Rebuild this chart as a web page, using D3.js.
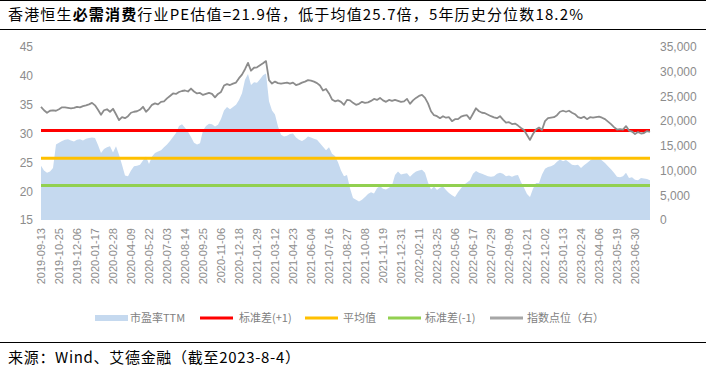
<!DOCTYPE html>
<html><head><meta charset="utf-8">
<script src="https://cdn.jsdelivr.net/npm/d3@7"></script>
<style>html,body{margin:0;padding:0;background:#fff;}svg{display:block;}</style>
</head><body>
<svg id="c" width="706" height="371"></svg>
<script>
const titlePre = "香港恒生";
const titleBold = "必需消费";
const titlePost = "行业PE估值=21.9倍，低于均值25.7倍，5年历史分位数18.2%";
const sourceText = "来源：Wind、艾德金融（截至2023-8-4）";
// weekly observations, one x-axis label every 6 weeks
const tickLabels = ["2019-09-13","2019-10-25","2019-12-06","2020-01-17","2020-02-28","2020-04-09","2020-05-22","2020-07-03","2020-08-14","2020-09-25","2020-11-06","2020-12-18","2021-01-29","2021-03-12","2021-04-23","2021-06-04","2021-07-16","2021-08-27","2021-10-08","2021-11-19","2021-12-31","2022-02-11","2022-03-25","2022-05-06","2022-06-17","2022-07-29","2022-09-09","2022-10-21","2022-12-02","2023-01-13","2023-02-24","2023-04-06","2023-05-19","2023-06-30"];
const labelEvery = 6;
const peTTM = [24.4,23.6,23.2,23.4,24.0,28.1,28.4,28.7,28.9,29.0,28.8,28.6,28.9,29.0,28.8,29.1,29.2,29.3,29.2,28.0,
26.6,27.3,27.6,27.8,26.7,27.8,26.3,24.6,22.7,22.6,23.6,24.3,24.4,24.6,25.3,26.0,24.7,26.0,26.6,26.9,
27.1,27.6,28.1,28.7,29.4,30.1,31.3,31.6,31.0,30.3,29.4,28.4,28.1,28.3,30.5,31.3,31.7,31.6,31.2,31.5,
32.5,34.0,34.6,34.2,34.6,35.0,35.8,37.0,39.3,40.3,38.4,38.9,38.8,39.4,40.1,40.4,35.6,34.0,33.3,31.2,
29.8,29.5,29.6,29.9,30.0,29.3,28.9,28.7,29.0,29.5,29.3,29.1,28.9,28.3,27.7,27.1,27.6,26.5,26.1,25.0,
23.6,22.6,22.8,20.5,18.8,18.5,18.2,18.5,19.0,19.5,19.8,19.6,20.5,20.9,20.4,20.3,20.6,21.0,22.8,23.4,
22.9,23.0,23.1,22.5,23.0,23.4,23.6,23.7,23.2,21.5,20.3,20.8,20.2,20.6,20.8,20.2,19.7,19.3,19.0,19.8,
20.5,21.1,21.5,21.9,23.0,23.5,23.2,23.0,22.8,22.6,22.5,22.6,23.0,23.2,23.0,22.6,22.7,22.5,22.7,22.8,
21.6,20.6,19.5,19.0,20.4,21.4,21.4,22.9,23.9,24.2,24.3,24.6,25.1,25.5,25.2,25.4,25.0,24.6,24.5,24.6,
24.0,24.5,24.9,25.3,25.7,25.9,25.8,25.3,24.9,24.3,23.8,23.2,22.5,22.4,22.6,23.2,22.3,22.4,22.0,21.9,
22.3,22.2,22.1,21.9];
const indexPts = [22900,22200,21700,22100,22200,22100,22400,22800,22800,22700,22600,22700,22900,22800,23050,23200,23400,23700,23200,22300,
21300,22200,22400,21900,22500,21400,20200,20800,20600,21000,21700,21900,22000,22300,22900,21900,22500,23300,23600,23400,
23900,24000,24600,25100,25600,25500,25900,26100,26200,26000,26600,26000,25600,25700,25300,25500,25700,25500,24800,25500,
25900,27200,27500,27300,27600,27800,28700,29400,30500,31800,30200,30800,30900,31300,31700,32150,28300,27600,28000,27700,
27600,27700,27800,27600,27800,27300,27500,27800,28000,28300,28200,28000,27700,27200,26200,26500,25600,24400,24000,24200,
23900,23300,24300,24200,23700,23300,23500,23900,23700,23800,24100,24500,24300,24700,24200,23900,24300,24100,24300,24100,
23900,24000,24500,23500,24200,24700,25100,25300,24700,23600,22000,21200,21000,20600,21000,20700,20800,20000,20400,20400,
20900,21100,21200,20400,21500,22600,22000,21700,21600,21300,21000,20750,20600,21000,20300,19700,19800,19400,19500,19100,
18600,18200,17200,16200,17400,18300,18700,18200,20000,20600,20700,20800,21200,21900,22100,21900,22100,21700,21400,20800,
20600,20900,20400,20800,20700,20800,20900,20700,20400,19900,19400,18800,18300,18400,18300,19000,18100,17900,17400,17800,
17500,17600,18000,17850];
const stdPlus = 30.5;
const meanPE = 25.7;
const stdMinus = 21.0;
const leftTicks = [15,20,25,30,35,40,45];
const rightTicks = [0,5000,10000,15000,20000,25000,30000,35000];
const legendLabels = ["市盈率TTM","标准差(+1)","平均值","标准差(-1)","指数点位（右）"];

const idx = d3.range(peTTM.length);
const svg = d3.select("#c");
const CJK = "'Noto Sans CJK SC', sans-serif";
const LAT = "'Liberation Sans', Arial, sans-serif";

const x = d3.scalePoint().domain(idx).range([41, 650]);
const yL = d3.scaleLinear().domain([15,45]).range([220,47]);
const yR = d3.scaleLinear().domain([0,35000]).range([220,47]);

// title
svg.append("line").attr("x1",0).attr("x2",706).attr("y1",0.5).attr("y2",0.5).attr("stroke","#000");
svg.append("line").attr("x1",0).attr("x2",706).attr("y1",29.5).attr("y2",29.5).attr("stroke","#000");
const t = svg.append("text").attr("x",8).attr("y",20).attr("font-family",CJK).attr("font-size",15).attr("fill","#000")
  .attr("textLength",575).attr("lengthAdjust","spacing");
t.append("tspan").text(titlePre);
t.append("tspan").attr("font-weight","bold").text(titleBold);
t.append("tspan").text(titlePost);

// area
svg.append("path").datum(peTTM)
  .attr("d", d3.area().x((d,i)=>x(i)).y0(yL(15)).y1(d=>yL(d)))
  .attr("fill","#c5d9ef");

// reference lines
[[stdPlus,"#ff0000"],[meanPE,"#ffc000"],[stdMinus,"#92d050"]].forEach(([v,c])=>{
  svg.append("line").attr("x1",x(0)).attr("x2",x(idx.length-1))
    .attr("y1",yL(v)).attr("y2",yL(v)).attr("stroke",c).attr("stroke-width",3);
});

// index line
svg.append("path").datum(indexPts)
  .attr("d", d3.line().x((d,i)=>x(i)).y(d=>yR(d)))
  .attr("fill","none").attr("stroke","#8c8c8c").attr("stroke-width",1.8).attr("stroke-linejoin","round");

// axes
const gl = svg.append("g").attr("transform","translate(33,0)")
  .call(d3.axisLeft(yL).tickValues(leftTicks).tickSize(0).tickPadding(0));
const gr = svg.append("g").attr("transform","translate(660,0)")
  .call(d3.axisRight(yR).tickValues(rightTicks).tickSize(0).tickPadding(0).tickFormat(d3.format(",")));
const gb = svg.append("g").attr("transform","translate(0,226)")
  .call(d3.axisBottom(x).tickValues(tickLabels.map((s,k)=>k*labelEvery))
    .tickFormat(i=>tickLabels[i/labelEvery]).tickSize(0).tickPadding(0));
[gl,gr,gb].forEach(g=>{
  g.select(".domain").remove();
  g.selectAll("text").attr("fill","#8c8c8c").attr("font-family",LAT).attr("font-size",12);
});
gb.selectAll("text").attr("font-size",11).attr("transform","rotate(-90)")
  .attr("text-anchor","end").attr("x",-2).attr("y",0).attr("dy","0.35em");

// legend
const lg = svg.append("g").attr("font-family",CJK).attr("font-size",11).attr("fill","#7f7f7f");
const items = [
  {lab:legendLabels[0], type:"rect", c:"#c5d9ef", x:95, tx:130},
  {lab:legendLabels[1], type:"line", c:"#ff0000", x:200, tx:239},
  {lab:legendLabels[2], type:"line", c:"#ffc000", x:305, tx:343},
  {lab:legendLabels[3], type:"line", c:"#92d050", x:388, tx:425},
  {lab:legendLabels[4], type:"line", c:"#a6a6a6", x:490, tx:527}
];
items.forEach(it=>{
  if(it.type==="rect") lg.append("rect").attr("x",it.x).attr("y",315).attr("width",33).attr("height",6).attr("fill",it.c);
  else lg.append("line").attr("x1",it.x).attr("x2",it.x+33).attr("y1",318).attr("y2",318).attr("stroke",it.c).attr("stroke-width",3);
  lg.append("text").attr("x",it.tx).attr("y",322).text(it.lab);
});

// source
svg.append("line").attr("x1",0).attr("x2",706).attr("y1",342.5).attr("y2",342.5).attr("stroke","#000");
svg.append("text").attr("x",8).attr("y",363).attr("font-family",CJK).attr("font-size",15).attr("fill","#000")
  .attr("textLength",292).attr("lengthAdjust","spacing").text(sourceText);
</script>
</body></html>
